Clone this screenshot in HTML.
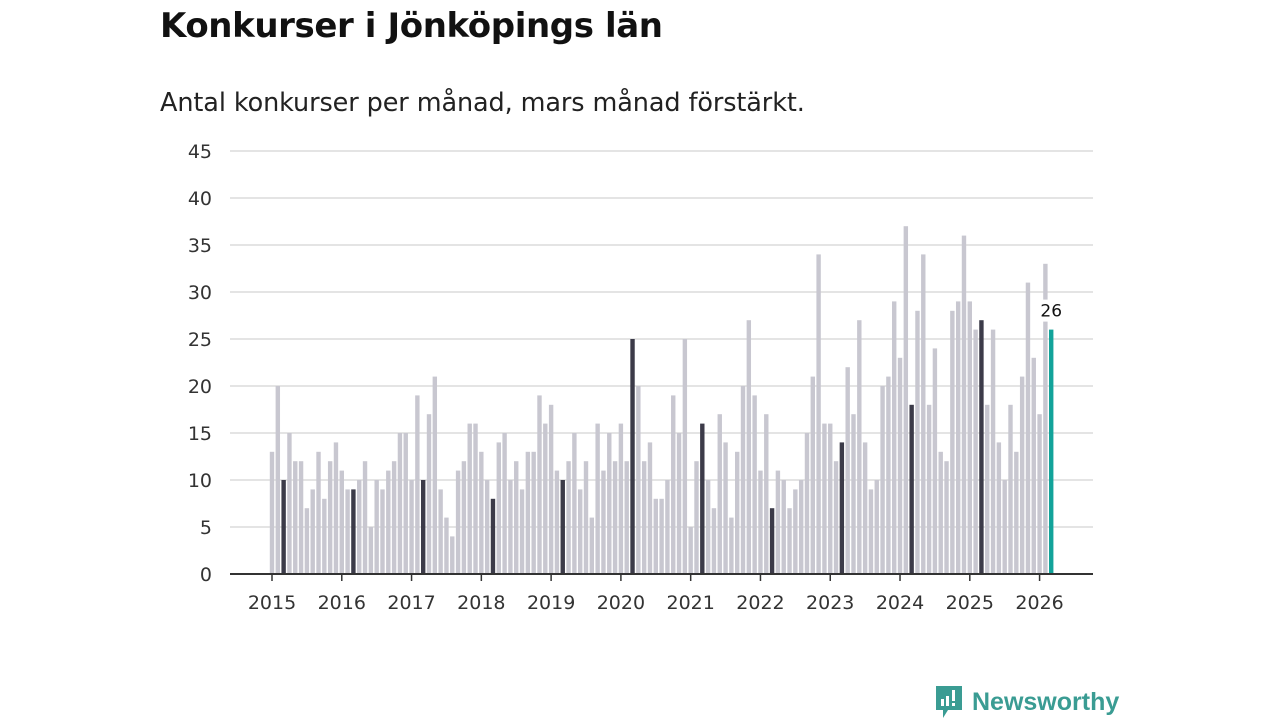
<!DOCTYPE html>
<html><head><meta charset="utf-8">
<style>
html,body{margin:0;padding:0;background:#fff;width:1280px;height:720px;overflow:hidden}
body{font-family:"DejaVu Sans","Liberation Sans",sans-serif;position:relative}
#title{position:absolute;left:160px;top:6px;font-size:34px;font-weight:bold;color:#111;letter-spacing:-0.4px}
#subtitle{position:absolute;left:160px;top:88px;font-size:25.5px;color:#222;letter-spacing:-0.1px}
svg{position:absolute;left:0;top:0}
#logo{position:absolute;left:934px;top:684px;display:flex;align-items:center}
#logo span{font-family:"Liberation Sans",sans-serif;font-weight:bold;font-size:25px;color:#3a9c93;margin-left:8px}
</style></head><body>
<div id="title">Konkurser i Jönköpings län</div>
<div id="subtitle">Antal konkurser per månad, mars månad förstärkt.</div>
<svg id="chart" width="1280" height="720"></svg>
<div id="logo">
<svg width="30" height="36" style="position:static"><path d="M2 2h26v24H14l-5 8v-8H2z" fill="#3a9c93"/><rect x="7" y="15" width="3" height="7" fill="#fff"/><rect x="12" y="12" width="3" height="10" fill="#fff"/><rect x="18" y="6" width="3" height="11" fill="#fff"/><rect x="18" y="19" width="3" height="3" fill="#fff"/></svg>
<span>Newsworthy</span></div>
<script>
const values2015 = [13,20,10,15,12,12,7,9,13,8,12,14];
const values2016 = [11,9,9,10,12,5,10,9,11,12,15,15];
const values2017 = [10,19,10,17,21,9,6,4,11,12,16,16];
const values2018 = [13,10,8,14,15,10,12,9,13,13,19,16];
const values2019 = [18,11,10,12,15,9,12,6,16,11,15,12];
const values2020 = [16,12,25,20,12,14,8,8,10,19,15,25];
const values2021 = [5,12,16,10,7,17,14,6,13,20,27,19];
const values2022 = [11,17,7,11,10,7,9,10,15,21,34,16];
const values2023 = [16,12,14,22,17,27,14,9,10,20,21,29];
const values2024 = [23,37,18,28,34,18,24,13,12,28,29,36];
const values2025 = [29,26,27,18,26,14,10,18,13,21,31,23];
const values2026 = [17,33,26];
const years = [2015,2016,2017,2018,2019,2020,2021,2022,2023,2024,2025,2026];
const yTicks = [0,5,10,15,20,25,30,35,40,45];
const values = [].concat(values2015,values2016,values2017,values2018,values2019,values2020,values2021,values2022,values2023,values2024,values2025,values2026);

const NS="http://www.w3.org/2000/svg";
const svg=document.getElementById('chart');
const y0=574, pxPerUnit=(574-151)/45;
const yScale=v=>y0-v*pxPerUnit;
const xScale=i=>272.0+i*5.815;
function mk(tag,attrs){const e=document.createElementNS(NS,tag);for(const k in attrs)e.setAttribute(k,attrs[k]);svg.appendChild(e);return e;}

yTicks.forEach(t=>{
  const g=mk('line',{x1:230,x2:1093,y1:yScale(t),y2:yScale(t),stroke:'#dcdcdc','stroke-width':1.5});
  
  
  const l=mk('text',{x:212,y:yScale(t)+7,'text-anchor':'end','font-size':19,fill:'#333','font-family':'DejaVu Sans, Liberation Sans, sans-serif'});
  l.textContent=t;
  
  
});

values.forEach((v,i)=>{
  const last=i===values.length-1, march=i%12===2;
  const fill=last?'#12a39a':(march?'#3c3b49':'#c8c7d0');
  const r=mk('rect',{x:xScale(i)-2.2,y:yScale(v),width:4.4,height:v*pxPerUnit,fill:fill});
  
  
});

const ax=mk('line',{x1:230,x2:1093,y1:y0,y2:y0,stroke:'#333','stroke-width':2});



years.forEach((yr,k)=>{
  const x=xScale(k*12);
  const tk=mk('line',{x1:x,x2:x,y1:y0,y2:y0+7,stroke:'#333','stroke-width':1.5});
  
  
  const l=mk('text',{x:x,y:609,'text-anchor':'middle','font-size':19,fill:'#333','font-family':'DejaVu Sans, Liberation Sans, sans-serif'});
  l.textContent=yr;
  
  
});

const li=values.length-1, lv=values[li];
const bg=mk('rect',{x:xScale(li)-14,y:yScale(lv)-30,width:28,height:22,fill:'#fff'});


const vl=mk('text',{x:xScale(li),y:yScale(lv)-13,'text-anchor':'middle','font-size':17,fill:'#111','font-family':'DejaVu Sans, Liberation Sans, sans-serif'});
vl.textContent=lv;


</script>
</body></html>
